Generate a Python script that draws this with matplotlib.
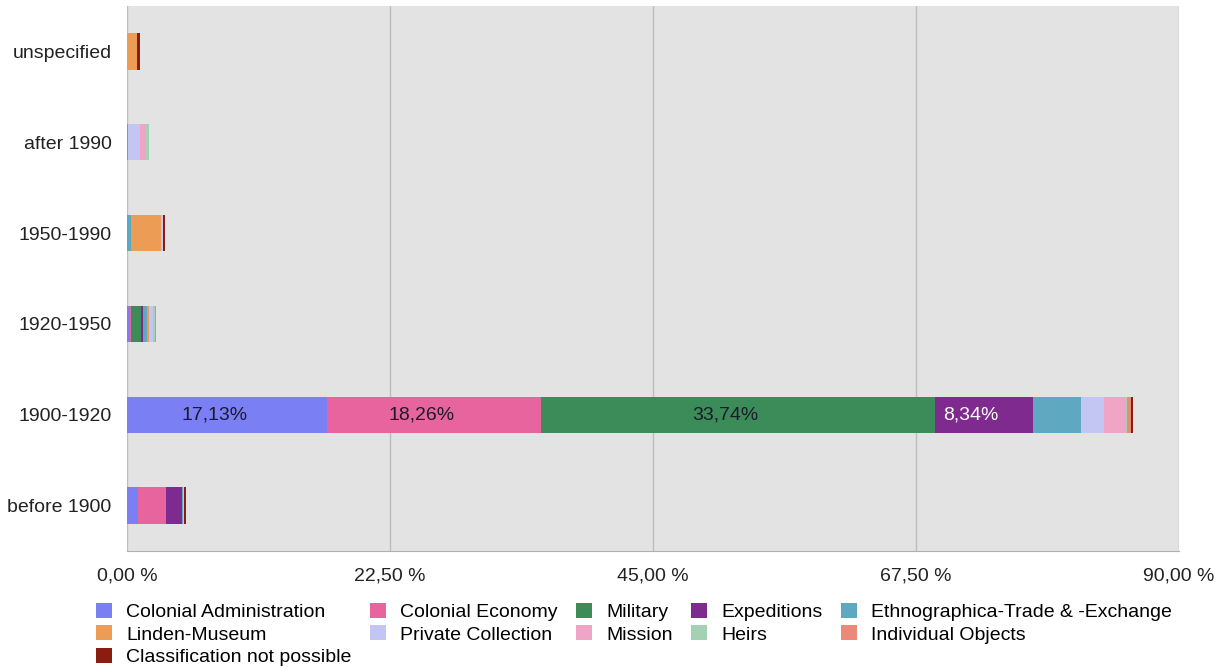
import numpy as np
import matplotlib
matplotlib.use("Agg")
import matplotlib.pyplot as plt
from matplotlib.patches import Patch

plt.rcParams["font.family"] = ["Liberation Sans", "DejaVu Sans"]
plt.rcParams["font.size"] = 14

# periods, bottom to top
periods = ["before 1900", "1900-1920", "1920-1950", "1950-1990", "after 1990", "unspecified"]

categories = [
    "Colonial Administration", "Colonial Economy", "Military", "Expeditions",
    "Ethnographica-Trade & -Exchange", "Linden-Museum", "Private Collection",
    "Mission", "Heirs", "Individual Objects", "Classification not possible",
]
colors = [
    "#7a80f4", "#e8649e", "#3b8c58", "#7f2a8f", "#5ea8c2", "#ec9c55",
    "#c3c6f3", "#f1a5c6", "#a4d1b4", "#ec8a7a", "#8a1c10",
]

# share in % per category, one value per period (same order as periods)
colonial_admin  = [0.96, 17.13, 0.25, 0.00, 0.00, 0.00]
colonial_econ   = [2.37, 18.26, 0.10, 0.00, 0.00, 0.00]
military        = [0.00, 33.74, 0.85, 0.00, 0.00, 0.00]
expeditions     = [1.37, 8.34, 0.20, 0.00, 0.00, 0.00]
ethnographica   = [0.10, 4.14, 0.30, 0.30, 0.05, 0.00]
linden_museum   = [0.00, 0.00, 0.20, 2.65, 0.00, 0.85]
private_coll    = [0.05, 1.97, 0.30, 0.10, 1.10, 0.00]
mission         = [0.00, 1.88, 0.10, 0.00, 0.40, 0.00]
heirs           = [0.00, 0.10, 0.10, 0.05, 0.30, 0.00]
individual_objs = [0.05, 0.30, 0.05, 0.00, 0.00, 0.00]
not_possible    = [0.15, 0.20, 0.05, 0.15, 0.00, 0.30]

series = [colonial_admin, colonial_econ, military, expeditions, ethnographica,
          linden_museum, private_coll, mission, heirs, individual_objs, not_possible]

xticks = [0, 22.5, 45, 67.5, 90]
xtick_labels = ["0,00 %", "22,50 %", "45,00 %", "67,50 %", "90,00 %"]

fig = plt.figure(figsize=(12.23, 6.67), dpi=100)
ax = fig.add_axes([127 / 1223, 1 - 551 / 667, 1052 / 1223, 545 / 667])
ax.set_facecolor("#e3e3e3")

y = np.arange(len(periods))
left = np.zeros(len(periods))
for name, vals, col in zip(categories, series, colors):
    vals = np.array(vals)
    ax.barh(y, vals, left=left, height=0.4, color=col, label=name, zorder=3)
    # value labels on the large segments
    for i, v in enumerate(vals):
        if v > 5:
            tc = "white" if name == "Expeditions" else "#1b1b2b"
            ax.text(left[i] + v / 2 - 1.1, y[i], f"{v:.2f}%".replace(".", ","),
                    ha="center", va="center", color=tc, fontsize=14, zorder=4)
    left += vals

ax.set_xlim(0, 90)
ax.set_ylim(-0.5, len(periods) - 0.5)
ax.set_xticks(xticks)
ax.set_xticklabels(xtick_labels)
ax.set_yticks(y)
ax.set_yticklabels(periods)
ax.tick_params(axis="both", length=0, labelsize=14, colors="#222222")
ax.tick_params(axis="y", pad=11)
ax.tick_params(axis="x", pad=12)
ax.grid(axis="x", color="#bdbdbd", linewidth=1, zorder=1)
for s in ["top", "right", "left"]:
    ax.spines[s].set_visible(False)
ax.spines["bottom"].set_color("#b0b0b0")

# legend: column-major order so the rows read like the original
order = [0, 5, 10, 1, 6, 2, 7, 3, 8, 4, 9]
handles = [Patch(facecolor=colors[k], edgecolor="none") for k in order]
labels = [categories[k] for k in order]
fig.legend(handles, labels, loc="upper left", bbox_to_anchor=(96 / 1223, 1 - 603 / 667),
           ncol=5, frameon=False, fontsize=14, handlelength=0.8, handleheight=0.8,
           handletextpad=0.75, columnspacing=0.95, labelspacing=0.22, borderpad=0,
           borderaxespad=0)

fig.savefig("out.png", dpi=100, facecolor="white")
